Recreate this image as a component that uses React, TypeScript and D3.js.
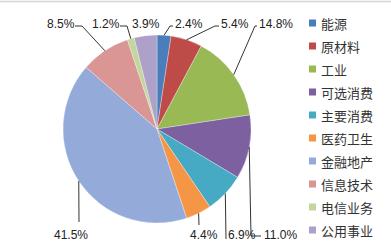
import React from "react";
import * as d3 from "d3";

const categories = ["能源", "原材料", "工业", "可选消费", "主要消费", "医药卫生", "金融地产", "信息技术", "电信业务", "公用事业"];
const values = [2.4, 5.4, 14.8, 11.0, 6.9, 4.4, 41.5, 8.5, 1.2, 3.9];
const colors = ["#4A7EBB", "#BE4B48", "#98B954", "#7D60A0", "#46AAC5", "#F59647", "#94ABD9", "#D99694", "#C3D69B", "#ADA0C9"];

// label layout: text x, baseline y, optional elbow points for leader
const labelLayout: { tx: number; ty: number; pts: [number, number][] | null }[] = [
  { tx: 175, ty: 28, pts: [[170, 26], [173, 26]] },
  { tx: 221, ty: 28, pts: [[215, 26], [219, 26]] },
  { tx: 259, ty: 28, pts: [[255, 26], [257, 26]] },
  { tx: 264, ty: 239, pts: [[251, 236], [261, 236]] },
  { tx: 228, ty: 239, pts: [[226, 239]] },
  { tx: 190, ty: 239, pts: [[199, 225]] },
  { tx: 54, ty: 239, pts: [[79, 222]] },
  { tx: 47, ty: 28, pts: [[82, 26], [75, 26]] },
  { tx: 92, ty: 28, pts: [[127, 26], [120, 26]] },
  { tx: 132, ty: 28, pts: null },
];

export default function App() {
  const W = 391, H = 249;
  const cx = 157, cy = 129, r = 94;
  const pie = d3.pie<number>().sort(null).value((d) => d);
  const arcs = pie(values);
  const arc = d3.arc<d3.PieArcDatum<number>>().innerRadius(0).outerRadius(r);
  const edge = d3.arc<d3.PieArcDatum<number>>().innerRadius(r).outerRadius(r);
  const line = d3.line();

  return (
    <svg width={W} height={H} style={{ position: "absolute", left: 0, top: 0, background: "#fff" }}>
      <rect x={0} y={0} width={W} height={H} fill="#fff" />
      <line x1={0} x2={W} y1={1.5} y2={1.5} stroke="#d4d4d4" strokeWidth={1.5} />
      <g transform={`translate(${cx},${cy})`}>
        {arcs.map((a, i) => (
          <path key={i} d={arc(a) || ""} fill={colors[i]} stroke="#ffffff" strokeWidth={0.5} strokeOpacity={0.6} />
        ))}
      </g>
      {arcs.map((a, i) => {
        const L = labelLayout[i];
        const [ex, ey] = edge.centroid(a);
        const start: [number, number] = [cx + ex, cy + ey];
        return (
          <g key={i}>
            {L.pts && (
              <path d={line([start, ...L.pts]) || ""} fill="none" stroke="#333" strokeWidth={1} />
            )}
            <text x={L.tx} y={L.ty} fontFamily="'Liberation Sans', Arial, sans-serif" fontSize={12} fill="#222">
              {values[i].toFixed(1)}%
            </text>
          </g>
        );
      })}
      {categories.map((c, i) => {
        const y = 23 + i * 23;
        return (
          <g key={c}>
            <rect x={309} y={y - 3.5} width={7} height={7} fill={colors[i]} />
            <text x={321} y={y} dominantBaseline="central" fontFamily="'Noto Sans CJK SC', sans-serif" fontSize={13} fill="#333">
              {c}
            </text>
          </g>
        );
      })}
    </svg>
  );
}
